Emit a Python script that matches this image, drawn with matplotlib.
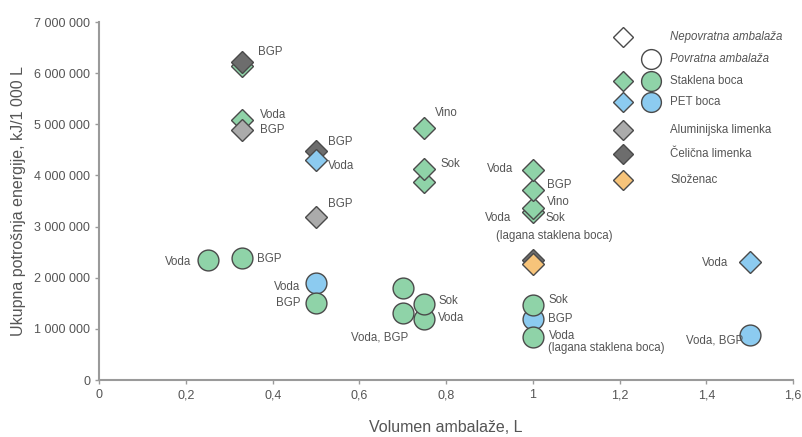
import matplotlib
matplotlib.use("Agg")
import matplotlib.pyplot as plt
from matplotlib.ticker import FuncFormatter, FixedLocator

plt.rcParams['font.family'] = ['Liberation Sans', 'DejaVu Sans']

# ---- data (volume in L, energy in kJ / 1000 L) ----
glass_nr_x = [0.33, 0.33, 0.75, 0.75, 0.75, 1.0, 1.0, 1.0, 1.0]
glass_nr_y = [6.14e6, 5.08e6, 4.92e6, 3.87e6, 4.13e6, 3.28e6, 3.36e6, 3.71e6, 4.10e6]
pet_nr_x = [0.5, 1.5]
pet_nr_y = [4.30e6, 2.30e6]
alu_x = [0.33, 0.5]
alu_y = [4.88e6, 3.19e6]
steel_x = [0.33, 0.5, 1.0]
steel_y = [6.22e6, 4.47e6, 2.35e6]
carton_x = [1.0]
carton_y = [2.27e6]
glass_r_x = [0.25, 0.33, 0.5, 0.7, 0.7, 0.75, 0.75, 1.0, 1.0]
glass_r_y = [2.34e6, 2.39e6, 1.51e6, 1.31e6, 1.80e6, 1.20e6, 1.48e6, 1.47e6, 0.84e6]
pet_r_x = [0.5, 1.0, 1.5]
pet_r_y = [1.90e6, 1.19e6, 0.88e6]

label_texts = ["BGP", "Voda", "BGP", "BGP", "Voda", "BGP", "Vino", "Sok",
               "Voda", "BGP", "Vino", "Voda", "Sok", "(lagana staklena boca)",
               "Voda", "Voda", "BGP", "Voda", "BGP", "Sok", "Voda", "Voda, BGP",
               "Sok", "BGP", "Voda", "(lagana staklena boca)", "Voda, BGP"]
label_x = [0.366, 0.371, 0.371, 0.528, 0.528, 0.528, 0.775, 0.786,
           0.955, 1.032, 1.032, 0.951, 1.028, 1.049,
           1.451, 0.213, 0.363, 0.463, 0.463, 0.782, 0.782, 0.713,
           1.036, 1.036, 1.036, 1.036, 1.486]
label_y = [6.41e6, 5.18e6, 4.88e6, 4.65e6, 4.19e6, 3.44e6, 5.22e6, 4.23e6,
           4.13e6, 3.81e6, 3.48e6, 3.16e6, 3.16e6, 2.81e6,
           2.28e6, 2.31e6, 2.36e6, 1.82e6, 1.50e6, 1.55e6, 1.22e6, 0.83e6,
           1.56e6, 1.20e6, 0.87e6, 0.62e6, 0.78e6]
label_ha = ["left", "left", "left", "left", "left", "left", "left", "left",
            "right", "left", "left", "right", "left", "center",
            "right", "right", "left", "right", "right", "left", "left", "right",
            "left", "left", "left", "left", "right"]

legend_labels = ["Nepovratna ambalaža", "Povratna ambalaža", "Staklena boca",
                 "PET boca", "Aluminijska limenka", "Čelična limenka", "Složenac"]

x_ticks = [0, 0.2, 0.4, 0.6, 0.8, 1.0, 1.2, 1.4, 1.6]
y_ticks = [0, 1e6, 2e6, 3e6, 4e6, 5e6, 6e6, 7e6]

# ---- style ----
GREEN = '#8fd3a8'
BLUE = '#8ccbf0'
GRAY = '#ababab'
DARK = '#6d6d6d'
ORANGE = '#f7c47a'
EDGE = '#4a4a4a'
TXT = '#555555'
AX = '#9a9a9a'
DMS = 11.5
CMS = 15.0
EW = 1.0

fig = plt.figure(figsize=(8.02, 4.37), dpi=100)
ax = fig.add_axes([0.1238, 0.1304, 0.865, 0.8192])

def pts(x, y, marker, color, ms, z):
    ax.plot(x, y, linestyle='none', marker=marker, ms=ms, mfc=color, mec=EDGE,
            mew=EW, zorder=z, clip_on=False)

pts(glass_nr_x, glass_nr_y, 'D', GREEN, DMS, 3)
pts(alu_x, alu_y, 'D', GRAY, DMS, 4)
pts(steel_x, steel_y, 'D', DARK, DMS, 4)
pts(pet_nr_x, pet_nr_y, 'D', BLUE, DMS, 5)
pts(carton_x, carton_y, 'D', ORANGE, DMS, 5)
pts(pet_r_x, pet_r_y, 'o', BLUE, CMS, 3)
pts(glass_r_x, glass_r_y, 'o', GREEN, CMS, 4)

for t, x, y, ha in zip(label_texts, label_x, label_y, label_ha):
    ax.text(x, y, t, ha=ha, va='center', fontsize=8.3, color=TXT, zorder=6)

# ---- legend (drawn manually) ----
lx_d, lx_c, lx_t = 0.7554, 0.7949, 0.8227
row_y = [0.959, 0.896, 0.836, 0.777, 0.698, 0.630, 0.559]
leg_d = ['white', None, GREEN, BLUE, GRAY, DARK, ORANGE]
leg_c = [None, 'white', GREEN, BLUE, None, None, None]
for i, lab in enumerate(legend_labels):
    yy = row_y[i]
    if leg_d[i] is not None:
        ax.plot([lx_d], [yy], transform=ax.transAxes, marker='D', ms=DMS * 0.85,
                mfc=leg_d[i], mec=EDGE, mew=EW, linestyle='none', clip_on=False)
    if leg_c[i] is not None:
        ax.plot([lx_c], [yy], transform=ax.transAxes, marker='o', ms=CMS * 0.95,
                mfc=leg_c[i], mec=EDGE, mew=EW, linestyle='none', clip_on=False)
    ax.text(lx_t, yy, lab, transform=ax.transAxes, ha='left', va='center',
            fontsize=8.3, color=TXT, style='italic' if i < 2 else 'normal')

# ---- axes ----
ax.set_xlim(0, 1.6)
ax.set_ylim(0, 7e6)
ax.xaxis.set_major_locator(FixedLocator(x_ticks))
ax.yaxis.set_major_locator(FixedLocator(y_ticks))

def xfmt(v, p):
    s = f"{v:.1f}".rstrip('0').rstrip('.')
    return s.replace('.', ',')

def yfmt(v, p):
    return f"{int(round(v)):,}".replace(',', ' ')

ax.xaxis.set_major_formatter(FuncFormatter(xfmt))
ax.yaxis.set_major_formatter(FuncFormatter(yfmt))

for s in ['top', 'right']:
    ax.spines[s].set_visible(False)
for s in ['left', 'bottom']:
    ax.spines[s].set_color(AX)
    ax.spines[s].set_linewidth(1.5)
ax.tick_params(axis='both', direction='out', length=3, width=1, color=AX,
               labelcolor=TXT, labelsize=9)
ax.set_xlabel("Volumen ambalaže, L", fontsize=11.5, color=TXT, labelpad=14)
ax.set_ylabel("Ukupna potrošnja energije, kJ/1 000 L", fontsize=11.5, color=TXT,
              labelpad=6)

fig.savefig("out.png", dpi=100)
